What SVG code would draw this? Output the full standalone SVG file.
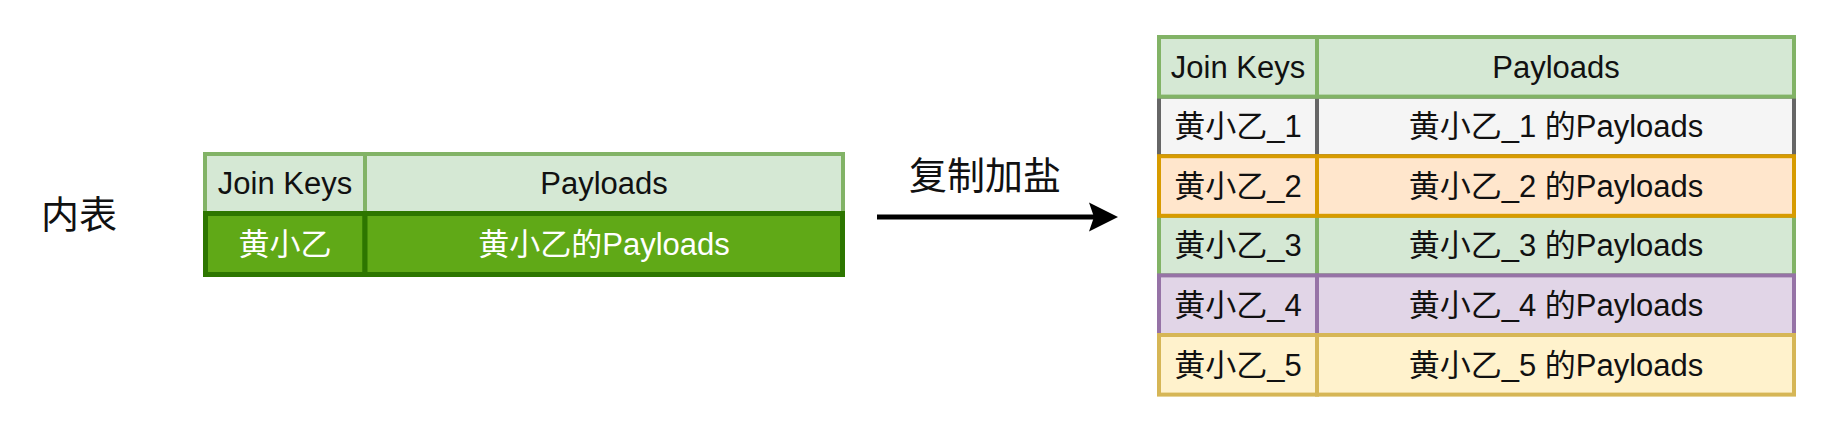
<svg xmlns="http://www.w3.org/2000/svg" width="1840" height="434" viewBox="0 0 1840 434">
  <defs>
    <style>
      text { font-family: "Liberation Sans", "Noto Sans CJK SC", sans-serif; font-size: 31px; fill: #111111; text-anchor: middle; }
      .big { font-size: 38px; }
      .white { fill: #ffffff; }
      .hdr { fill: #d5e8d4; stroke: #82b366; stroke-width: 4; }
      .gray { fill: #f5f5f5; stroke: #666666; stroke-width: 4; }
      .orange { fill: #ffe6cc; stroke: #d79b00; stroke-width: 4; }
      .green { fill: #d5e8d4; stroke: #82b366; stroke-width: 4; }
      .purple { fill: #e1d5e7; stroke: #9673a6; stroke-width: 4; }
      .yellow { fill: #fff2cc; stroke: #d6b656; stroke-width: 4; }
      .dark { fill: #60a917; stroke: #2d7600; stroke-width: 5; }
    </style>
    <marker id="arrow" viewBox="0 0 30 30" refX="11" refY="15" markerWidth="30" markerHeight="30" markerUnits="userSpaceOnUse" orient="auto">
      <path d="M0,0.5 L29,15 L0,29.5 L5,15 Z" fill="#000000"/>
    </marker>
  </defs>
  <rect width="1840" height="434" fill="#ffffff"/>

  <text id="label-inner" class="big" x="79" y="228">内表</text>

  <g id="inner-table">
    <g id="inner-header">
      <rect class="hdr" x="205" y="154" width="160" height="59"/>
      <rect class="hdr" x="365" y="154" width="478" height="59"/>
      <text x="285" y="194">Join Keys</text>
      <text x="604" y="194">Payloads</text>
    </g>
    <g id="inner-row">
      <rect class="dark" x="205.5" y="213.5" width="159.5" height="61"/>
      <rect class="dark" x="365" y="213.5" width="477.5" height="61"/>
      <text class="white" x="285" y="255">黄小乙</text>
      <text class="white" x="604" y="255">黄小乙的Payloads</text>
    </g>
  </g>

  <g id="connectors">
    <line x1="877" y1="217" x2="1100" y2="217" stroke="#000000" stroke-width="5" marker-end="url(#arrow)"/>
  </g>
  <text id="label-salt" class="big" x="985" y="189">复制加盐</text>

  <g id="salted-table">
    <g id="row-1">
      <rect class="gray" x="1159" y="96.6" width="158" height="59.6"/>
      <rect class="gray" x="1317" y="96.6" width="477" height="59.6"/>
      <text x="1238" y="137">黄小乙_1</text>
      <text x="1556" y="137">黄小乙_1 的Payloads</text>
    </g>
    <g id="row-3">
      <rect class="green" x="1159" y="215.8" width="158" height="59.6"/>
      <rect class="green" x="1317" y="215.8" width="477" height="59.6"/>
      <text x="1238" y="256">黄小乙_3</text>
      <text x="1556" y="256">黄小乙_3 的Payloads</text>
    </g>
    <g id="header">
      <rect class="hdr" x="1159" y="37" width="158" height="59.6"/>
      <rect class="hdr" x="1317" y="37" width="477" height="59.6"/>
      <text x="1238" y="78">Join Keys</text>
      <text x="1556" y="78">Payloads</text>
    </g>
    <g id="row-2">
      <rect class="orange" x="1159" y="156.2" width="158" height="59.6"/>
      <rect class="orange" x="1317" y="156.2" width="477" height="59.6"/>
      <text x="1238" y="197">黄小乙_2</text>
      <text x="1556" y="197">黄小乙_2 的Payloads</text>
    </g>
    <g id="row-4">
      <rect class="purple" x="1159" y="275.4" width="158" height="59.6"/>
      <rect class="purple" x="1317" y="275.4" width="477" height="59.6"/>
      <text x="1238" y="316">黄小乙_4</text>
      <text x="1556" y="316">黄小乙_4 的Payloads</text>
    </g>
    <g id="row-5">
      <rect class="yellow" x="1159" y="335" width="158" height="59.6"/>
      <rect class="yellow" x="1317" y="335" width="477" height="59.6"/>
      <text x="1238" y="376">黄小乙_5</text>
      <text x="1556" y="376">黄小乙_5 的Payloads</text>
    </g>
  </g>
</svg>
